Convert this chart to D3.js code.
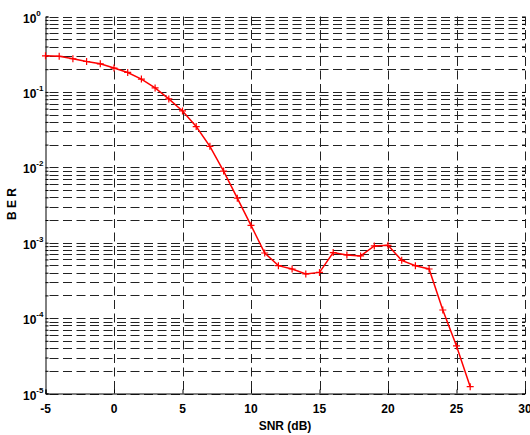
<!DOCTYPE html>
<html>
<head>
<meta charset="utf-8">
<script src="https://cdn.jsdelivr.net/npm/d3@7"></script>
<style>
  body { margin: 0; background: #fff; }
  text { font-family: "Liberation Sans", Arial, sans-serif; font-weight: bold; }
</style>
</head>
<body>
<script>
// datos
const snr = [-5, -4, -3, -2, -1, 0, 1, 2, 3, 4, 5, 6, 7, 8, 9, 10,
             11, 12, 13, 14, 15, 16, 17, 18, 19, 20, 21, 22, 23, 24, 25, 26];
const ber = [0.301, 0.296, 0.275, 0.253, 0.236, 0.207, 0.181, 0.148, 0.113, 0.0807,
             0.0559, 0.0347, 0.019, 0.0089, 0.0039, 0.0017,
             7.3e-4, 4.96e-4, 4.48e-4, 3.85e-4, 4.04e-4, 7.4e-4, 6.88e-4, 6.67e-4,
             9.06e-4, 9.23e-4, 5.83e-4, 4.96e-4, 4.48e-4, 1.28e-4, 4.28e-5, 1.23e-5];
const xTicks = [-5, 0, 5, 10, 15, 20, 25, 30];
const yExponents = [0, -1, -2, -3, -4, -5];

const width = 530, height = 435;
const mLeft = 45.5, mRight = 525, mTop = 16.5, mBottom = 393.5;

const svg = d3.select("body").append("svg")
    .attr("width", width)
    .attr("height", height);

const x = d3.scaleLinear().domain([-5, 30]).range([mLeft, mRight]);
const y = d3.scaleLog().domain([1e-5, 1]).range([mBottom, mTop]);

// rejilla horizontal: décadas y subdivisiones
const yGrid = [];
for (let e = -5; e < 0; e++) {
    for (let m = 1; m < 10; m++) yGrid.push(m * Math.pow(10, e));
}
yGrid.push(1);

const grid = svg.append("g").attr("stroke", "#222").attr("stroke-width", 1)
    .attr("stroke-dasharray", "9,4.5");

grid.selectAll(".hg").data(yGrid).enter().append("line")
    .attr("class", "hg")
    .attr("x1", mLeft + 4).attr("x2", mRight)
    .attr("y1", d => Math.round(y(d)) + 0.5)
    .attr("y2", d => Math.round(y(d)) + 0.5);

grid.selectAll(".vg").data(xTicks.slice(1)).enter().append("line")
    .attr("class", "vg")
    .attr("x1", d => Math.round(x(d)) + 0.5).attr("x2", d => Math.round(x(d)) + 0.5)
    .attr("y1", mTop).attr("y2", mBottom);

// ejes izquierdo e inferior
const yAxis = d3.axisRight(y).tickValues(yGrid).tickSize(3).tickFormat("");
svg.append("g").attr("transform", `translate(${mLeft},0)`).call(yAxis);

const yAxisR = d3.axisLeft(y).tickValues(yGrid).tickSize(3).tickFormat("");
svg.append("g").attr("transform", `translate(${mRight},0)`).call(yAxisR)
    .call(g => g.select(".domain").remove());

const xAxis = d3.axisTop(x).tickValues(xTicks).tickSize(4).tickFormat("");
svg.append("g").attr("transform", `translate(0,${mBottom})`).call(xAxis);

// etiquetas del eje x
svg.selectAll(".xl").data(xTicks).enter().append("text")
    .attr("class", "xl")
    .attr("x", d => x(d))
    .attr("y", 413)
    .attr("text-anchor", "middle")
    .attr("font-size", 12)
    .text(d => d);

// etiquetas del eje y: 10^e
const yl = svg.selectAll(".yl").data(yExponents).enter().append("text")
    .attr("class", "yl")
    .attr("x", 23)
    .attr("y", d => y(Math.pow(10, d)) + 6)
    .attr("font-size", 12);
yl.append("tspan").text("10");
yl.append("tspan")
    .attr("dy", -7)
    .attr("font-size", 8)
    .text(d => d);

// títulos
svg.append("text")
    .attr("x", 285).attr("y", 430)
    .attr("text-anchor", "middle")
    .attr("font-size", 12)
    .text("SNR (dB)");

svg.append("text")
    .attr("transform", "translate(16,204) rotate(-90)")
    .attr("text-anchor", "middle")
    .attr("font-size", 12)
    .text("B E R");

// curva
const pts = snr.map((s, i) => [s, ber[i]]);
svg.append("path")
    .datum(pts)
    .attr("fill", "none")
    .attr("stroke", "#ff0000")
    .attr("stroke-width", 1.5)
    .attr("d", d3.line().x(d => x(d[0])).y(d => y(d[1])));

svg.selectAll(".mk").data(pts).enter().append("path")
    .attr("class", "mk")
    .attr("fill", "none")
    .attr("stroke", "#ff0000")
    .attr("stroke-width", 1.2)
    .attr("d", d => {
        const cx = x(d[0]), cy = y(d[1]);
        return `M${cx - 3.5},${cy}H${cx + 3.5}M${cx},${cy - 3.5}V${cy + 3.5}`;
    });
</script>
</body>
</html>
